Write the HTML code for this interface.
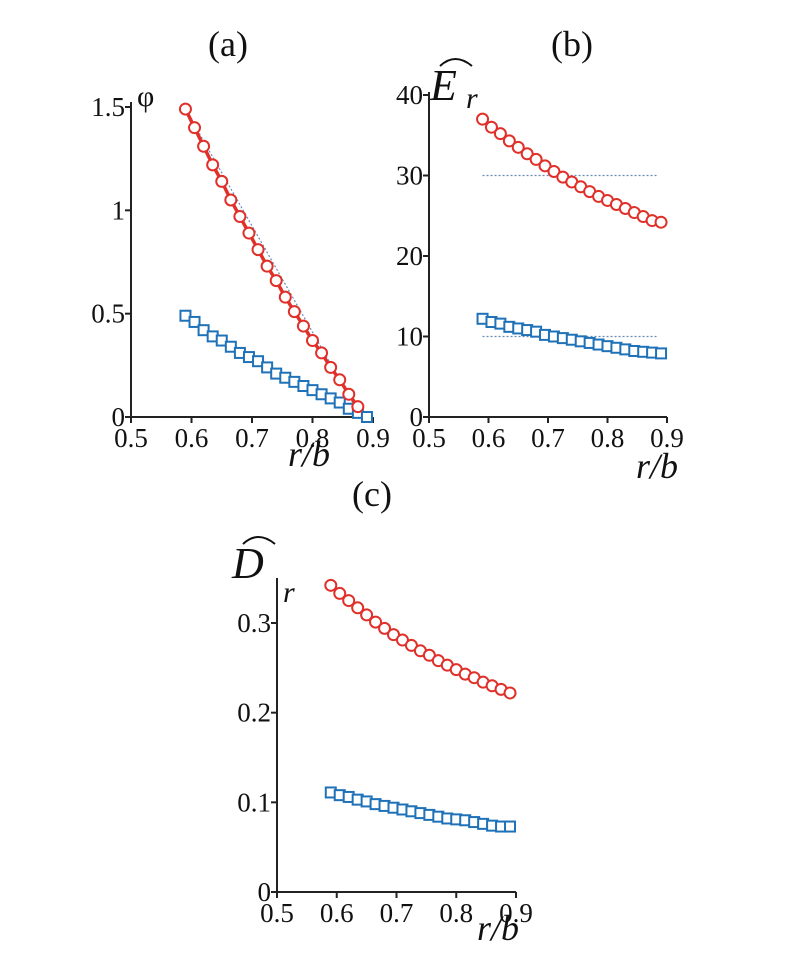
<!DOCTYPE html>
<html><head><meta charset="utf-8"><style>
body{margin:0;background:#fff}
svg{display:block}
text{font-family:"Liberation Serif",serif;fill:#111}
</style></head><body>
<svg id="fig" width="785" height="957" viewBox="0 0 785 957" xmlns="http://www.w3.org/2000/svg">
<text x="228" y="56" font-size="36" text-anchor="middle">(a)</text>
<text x="572" y="56" font-size="36" text-anchor="middle">(b)</text>
<text x="372" y="506" font-size="36" text-anchor="middle">(c)</text>
<text x="137" y="106" font-size="30">φ</text>
<g><text x="430" y="100" font-size="44" font-style="italic">E</text><text x="466" y="108" font-size="30" font-style="italic">r</text><path d="M440 66 Q455 52 472 66" fill="none" stroke="#111" stroke-width="2"/></g>
<g><text x="232" y="578" font-size="44" font-style="italic">D</text><text x="283" y="602" font-size="30" font-style="italic">r</text><path d="M243 544 Q258 530 275 544" fill="none" stroke="#111" stroke-width="2"/></g>
<text x="288" y="466" font-size="36" font-style="italic">r/b</text>
<text x="636" y="478" font-size="36" font-style="italic">r/b</text>
<text x="477" y="940" font-size="36" font-style="italic">r/b</text>
</svg>
<script>
const xs = [0.59,0.605,0.62,0.635,0.65,0.665,0.68,0.695,0.71,0.725,0.74,0.755,0.77,0.785,0.8,0.815,0.83,0.845,0.86,0.875,0.89];
const xTicks = [0.5,0.6,0.7,0.8,0.9];
const aRed = [1.49,1.40,1.31,1.22,1.14,1.05,0.97,0.89,0.81,0.73,0.66,0.58,0.51,0.44,0.37,0.31,0.24,0.18,0.11,0.05];
const aBlue = [0.49,0.46,0.42,0.39,0.37,0.34,0.31,0.29,0.27,0.24,0.21,0.19,0.17,0.15,0.13,0.11,0.09,0.07,0.04,0.02,0.00];
const aTicks = [0,0.5,1,1.5];
const aTickLabels = ["0","0.5","1","1.5"];
const aRef = [[0.59,1.49],[0.88,0]];
const bRed = [37.0,36.0,35.2,34.3,33.5,32.7,32.0,31.2,30.5,29.8,29.2,28.6,28.0,27.4,26.9,26.4,25.9,25.4,24.9,24.4,24.2];
const bBlue = [12.2,11.8,11.6,11.2,11.0,10.8,10.6,10.2,10.0,9.8,9.6,9.4,9.2,9.0,8.8,8.6,8.4,8.2,8.1,8.0,7.9];
const bTicks = [0,10,20,30,40];
const bRefs = [30,10];
const cRed = [0.342,0.333,0.325,0.317,0.309,0.301,0.294,0.287,0.281,0.275,0.269,0.264,0.258,0.253,0.248,0.243,0.239,0.234,0.230,0.226,0.222];
const cBlue = [0.111,0.108,0.106,0.103,0.101,0.098,0.096,0.094,0.092,0.090,0.088,0.086,0.084,0.082,0.081,0.080,0.078,0.076,0.074,0.073,0.073];
const cTicks = [0,0.1,0.2,0.3];

const NS="http://www.w3.org/2000/svg", svg=document.getElementById('fig');
function mk(tag,attrs,parent){const e=document.createElementNS(NS,tag);for(const k in attrs)e.setAttribute(k,attrs[k]);(parent||svg).appendChild(e);return e;}
const RED="#e0302a", BLUE="#1f72b8";
function panel(id,x0,x1,y0,yTop,ymax,axisTop,ticks,labels){
  const X=v=>x0+(v-0.5)/0.4*(x1-x0), Y=v=>y0-v/ymax*(y0-yTop);
  const g=mk('g',{});
  
  
  mk('path',{d:`M${x0} ${axisTop} V${y0} H${x1}`,fill:'none',stroke:'#222','stroke-width':2},g);
  xTicks.forEach(t=>{mk('line',{x1:X(t),x2:X(t),y1:y0,y2:y0+6,stroke:'#222','stroke-width':2},g);
    const tx=mk('text',{x:X(t),y:y0+30,'font-size':27,'text-anchor':'middle'},g);tx.textContent=t.toFixed(1);
    
    });
  ticks.forEach((t,i)=>{mk('line',{x1:x0-6,x2:x0,y1:Y(t),y2:Y(t),stroke:'#222','stroke-width':2},g);
    const tx=mk('text',{x:x0-6,y:Y(t)+9,'font-size':27,'text-anchor':'end'},g);tx.textContent=labels[i];
    
    });
  return {X,Y,g};
}
function circles(p,vals,name,line){
  const g=mk('g',{});
  
  
  if(line){mk('polyline',{points:vals.map((v,i)=>p.X(xs[i])+','+p.Y(v)).join(' '),fill:'none',stroke:RED,'stroke-width':3.5},g);}
  vals.forEach((v,i)=>{const c=mk('circle',{cx:p.X(xs[i]),cy:p.Y(v),r:5.5,fill:'#fff',stroke:RED,'stroke-width':2},g);
    
    });
}
function squares(p,vals,name){
  const g=mk('g',{});
  
  
  vals.forEach((v,i)=>{const r=mk('rect',{x:p.X(xs[i])-5,y:p.Y(v)-5,width:10,height:10,fill:'#fff',stroke:BLUE,'stroke-width':2},g);
    
    });
}
const pa=panel('panel-a',131,373,417,107,1.5,102,aTicks,aTickLabels);
const ra=mk('line',{x1:pa.X(aRef[0][0]),y1:pa.Y(aRef[0][1]),x2:pa.X(aRef[1][0]),y2:pa.Y(aRef[1][1]),stroke:'#6a8ab8','stroke-width':1.2,'stroke-dasharray':'2,2'});


squares(pa,aBlue,'panel-a-blue-series');
circles(pa,aRed,'panel-a-red-series',true);
const pb=panel('panel-b',429,667,417,95,40,92,bTicks,bTicks.map(String));
bRefs.forEach(v=>{const l=mk('line',{x1:pb.X(0.59),x2:pb.X(0.885),y1:pb.Y(v),y2:pb.Y(v),stroke:'#6a8ab8','stroke-width':1.2,'stroke-dasharray':'2,2'});
  
  });
circles(pb,bRed,'panel-b-red-series',false);
squares(pb,bBlue,'panel-b-blue-series');
const pc=panel('panel-c',277,516,892,623,0.3,578,cTicks,cTicks.map(String));
circles(pc,cRed,'panel-c-red-series',false);
squares(pc,cBlue,'panel-c-blue-series');
</script>
</body></html>
